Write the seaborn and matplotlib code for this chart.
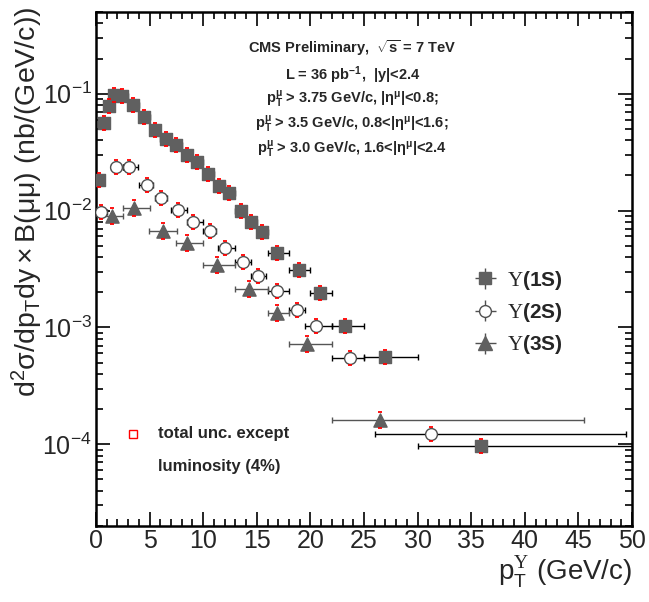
import numpy as np
import pandas as pd
import seaborn as sns
import matplotlib.pyplot as plt
from matplotlib.path import Path
from matplotlib.ticker import MultipleLocator, LogLocator, NullFormatter, FuncFormatter

# Y(1S): pT centre, bin edges, cross section
pt_1s = [0.28, 0.72, 1.24, 1.68, 2.45, 3.48, 4.48, 5.5, 6.5, 7.46, 8.46, 9.45, 10.48,
         11.45, 12.43, 13.5, 14.46, 15.46, 16.91, 18.96, 20.9, 23.26, 26.99, 35.9]
lo_1s = [0.0, 0.5, 1.0, 1.5, 2.0, 3.0, 4.0, 5.0, 6.0, 7.0, 8.0, 9.0, 10.0,
         11.0, 12.0, 13.0, 14.0, 15.0, 16.0, 18.0, 20.0, 22.0, 25.0, 30.0]
hi_1s = [0.5, 1.0, 1.5, 2.0, 3.0, 4.0, 5.0, 6.0, 7.0, 8.0, 9.0, 10.0, 11.0,
         12.0, 13.0, 14.0, 15.0, 16.0, 18.0, 20.0, 22.0, 25.0, 30.0, 50.0]
xs_1s = [0.0183, 0.0561, 0.0778, 0.0967, 0.0948, 0.0794, 0.0631, 0.0492, 0.0409, 0.0366,
         0.0300, 0.0261, 0.0206, 0.0161, 0.0141, 0.00994, 0.00805, 0.00653, 0.00431,
         0.00310, 0.00198, 0.00103, 0.000555, 0.0000964]

# Y(2S)
pt_2s = [0.47, 1.87, 3.11, 4.73, 6.04, 7.68, 9.08, 10.63, 12.06, 13.74, 15.14,
         16.91, 18.78, 20.52, 23.67, 31.25]
lo_2s = [0.0, 1.37, 2.49, 4.04, 5.5, 7.0, 8.46, 10.0, 11.4, 13.0, 14.5, 16.0, 18.0,
         19.5, 22.0, 26.0]
hi_2s = [1.0, 2.49, 3.95, 5.35, 6.6, 8.46, 10.0, 11.2, 13.0, 14.5, 15.9, 18.0, 19.5,
         22.0, 25.0, 49.4]
xs_2s = [0.00969, 0.0235, 0.0235, 0.0165, 0.0128, 0.0101, 0.00805, 0.0067, 0.00482,
         0.00366, 0.00275, 0.00206, 0.00141, 0.00103, 0.00055, 0.000122]

# Y(3S)
pt_3s = [1.49, 3.57, 6.22, 8.52, 11.26, 14.3, 16.91, 19.66, 26.49]
lo_3s = [0.0, 2.49, 4.97, 7.46, 10.0, 13.0, 16.0, 18.0, 22.0]
hi_3s = [2.49, 5.04, 7.53, 10.0, 13.0, 16.0, 18.0, 22.0, 45.5]
xs_3s = [0.00901, 0.0105, 0.00675, 0.00524, 0.00343, 0.00215, 0.00134, 0.000721, 0.000161]

x_ticks = [0, 5, 10, 15, 20, 25, 30, 35, 40, 45, 50]

sns.set_style("ticks")
plt.rcParams['font.family'] = ['Liberation Sans', 'DejaVu Sans']
plt.rcParams['mathtext.fontset'] = 'custom'
plt.rcParams['mathtext.rm'] = 'Liberation Sans'
plt.rcParams['mathtext.it'] = 'Liberation Sans:italic'
plt.rcParams['mathtext.bf'] = 'Liberation Sans:bold'
plt.rcParams['mathtext.sf'] = 'Liberation Serif'
plt.rcParams['axes.axisbelow'] = False


def make_df(pt, lo, hi, sig, name):
    df = pd.DataFrame({'pt': pt, 'lo': lo, 'hi': hi, 'sigma': sig})
    df['state'] = name
    return df


df = pd.concat([make_df(pt_1s, lo_1s, hi_1s, xs_1s, '1S'),
                make_df(pt_2s, lo_2s, hi_2s, xs_2s, '2S'),
                make_df(pt_3s, lo_3s, hi_3s, xs_3s, '3S')], ignore_index=True)

fig = plt.figure(figsize=(6.49, 6.02), dpi=100)
ax = fig.add_axes([96 / 649, 1 - 526 / 602, 536 / 649, 514 / 602])
ax.set_yscale('log')

styles = {
    '1S': dict(marker='s', mfc='#606060', mec='#606060', ms=8, ecolor='black'),
    '2S': dict(marker='o', mfc='white', mec='#505050', ms=8.5, ecolor='black'),
    '3S': dict(marker='^', mfc='#606060', mec='#606060', ms=9.5, ecolor='#555555'),
}

# red marker for the total uncertainty (except lumi): top/bottom edges of a box
box = Path([(-0.3, -1), (0.3, -1), (-0.3, 1), (0.3, 1)],
           [Path.MOVETO, Path.LINETO, Path.MOVETO, Path.LINETO])

for state, st in styles.items():
    d = df[df.state == state]
    xerr = [(d['pt'] - d['lo']).values, (d['hi'] - d['pt']).values]
    ax.errorbar(d['pt'].values, d['sigma'].values, xerr=xerr, fmt='none', ecolor=st['ecolor'],
                elinewidth=1.0, capsize=2, capthick=1.0, zorder=2)
    sns.scatterplot(data=d, x='pt', y='sigma', ax=ax, marker=st['marker'],
                    color=st['mfc'], edgecolor=st['mec'], linewidth=1.0,
                    s=st['ms'] ** 2, zorder=3, legend=False)
    ax.plot(d['pt'].values, d['sigma'].values, linestyle='none', marker=box, ms=st['ms'] + 1.5,
            mfc='none', mec='red', mew=1.3, zorder=4)

# legend proxies with error crosses
handles = []
for state, st in styles.items():
    h = ax.errorbar([np.nan], [np.nan], xerr=1, yerr=1, fmt=st['marker'],
                    mfc=st['mfc'], mec=st['mec'], ms=st['ms'], ecolor='#505050',
                    elinewidth=1.0)
    handles.append(h)
labels = [r'$\mathsf{\Upsilon}$(1S)', r'$\mathsf{\Upsilon}$(2S)', r'$\mathsf{\Upsilon}$(3S)']
ax.legend(handles, labels, loc='upper left', bbox_to_anchor=(0.662, 0.537),
          frameon=False, prop={'family': 'Liberation Sans', 'weight': 'bold', 'size': 15},
          handlelength=1.5, handletextpad=0.3, labelspacing=0.45)

ax.set_xlim(0, 50)
ax.set_ylim(2e-5, 0.5)
ax.set_xticks(x_ticks)
ax.set_xticklabels([str(t) for t in x_ticks])
ax.xaxis.set_minor_locator(MultipleLocator(1))
ax.yaxis.set_major_locator(LogLocator(base=10, numticks=10))
ax.yaxis.set_minor_locator(LogLocator(base=10, subs=np.arange(2, 10), numticks=20))
ax.yaxis.set_minor_formatter(NullFormatter())
ax.yaxis.set_major_formatter(FuncFormatter(
    lambda v, p: r'$\mathrm{10^{%d}}$' % int(round(np.log10(v)))))

ax.tick_params(which='both', direction='in', top=True, right=True, bottom=True, left=True,
               labelsize=18, color='black', width=1.2)
ax.tick_params(which='major', length=10)
ax.tick_params(which='minor', length=5)
ax.tick_params(axis='x', which='major', pad=2)
ax.tick_params(axis='y', which='major', pad=3)
for sp in ax.spines.values():
    sp.set_linewidth(1.8)
    sp.set_color('black')

ax.set_ylabel(r'$\mathrm{d^{2}\sigma/dp_{T}dy \times B(\mu\mu)\ (nb/(GeV/c))}$',
              fontsize=20.5, loc='top')
ax.yaxis.set_label_coords(-0.095, 1.01)
ax.set_xlabel(r'$\mathrm{p_{T}^{\mathsf{\Upsilon}}}$ (GeV/c)', fontsize=20, loc='right')
ax.xaxis.set_label_coords(1.0, -0.055)

# header text
head = [
    (0.930, r'CMS Preliminary,  $\mathbf{\sqrt{s}}$ = 7 TeV'),
    (0.877, r'L = 36 pb$^{\mathbf{-1}}$,  |y|<2.4'),
    (0.830, r'$\mathbf{p_{T}^{\mu}}$ > 3.75 GeV/c, |$\mathbf{\eta^{\mu}}$|<0.8;'),
    (0.781, r'$\mathbf{p_{T}^{\mu}}$ > 3.5 GeV/c, 0.8<|$\mathbf{\eta^{\mu}}$|<1.6;'),
    (0.732, r'$\mathbf{p_{T}^{\mu}}$ > 3.0 GeV/c, 1.6<|$\mathbf{\eta^{\mu}}$|<2.4'),
]
for y, s in head:
    ax.text(0.478, y, s, transform=ax.transAxes, ha='center', va='center',
            fontsize=10.5, fontweight='bold')

# uncertainty legend
ax.plot([0.0696], [0.179], transform=ax.transAxes, marker='s', ms=6, mfc='none',
        mec='red', mew=1.0, linestyle='none')
ax.text(0.1157, 0.179, 'total unc. except', transform=ax.transAxes, ha='left',
        va='center', fontsize=12, fontweight='bold')
ax.text(0.1157, 0.115, 'luminosity (4%)', transform=ax.transAxes, ha='left',
        va='center', fontsize=12, fontweight='bold')

fig.savefig('out.png', dpi=100)
